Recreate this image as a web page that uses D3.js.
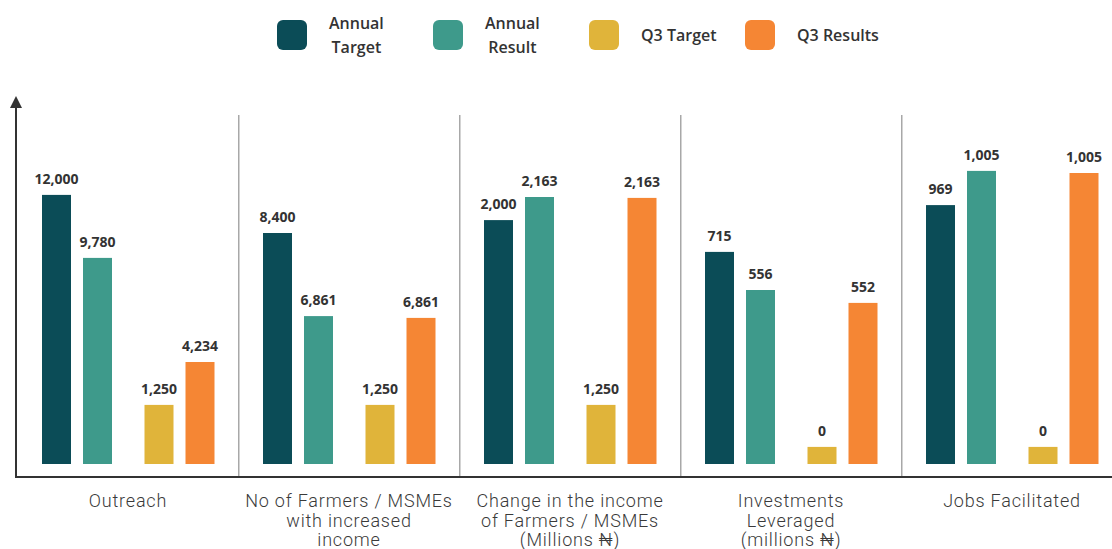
<!DOCTYPE html>
<html>

<head>
    <meta charset="utf-8">
    <style>
        body {
            margin: 0;
            background: #fff;
        }

        svg {
            display: block;
        }

        .value-label {
            font-family: "Open Sans", sans-serif;
            font-weight: 700;
            font-size: 14px;
            fill: #333;
        }

        .cat-label {
            font-family: Roboto, "DejaVu Sans", sans-serif;
            font-weight: 300;
            font-size: 18px;
            letter-spacing: 0.8px;
            fill: #3a3a3a;
        }

        .legend-label {
            font-family: "Open Sans", sans-serif;
            font-weight: 600;
            font-size: 16px;
            fill: #333;
        }
    </style>
    <title>Annual and Q3 results</title>
</head>

<body>
    <svg width="1112" height="549"></svg>

    <script src="https://d3js.org/d3.v7.min.js"></script>
    <script>
        // categories, one entry per group (lines of the label)
        let categories = [
            ["Outreach"],
            ["No of Farmers / MSMEs", "with increased", "income"],
            ["Change in the income", "of Farmers / MSMEs", "(Millions ₦)"],
            ["Investments", "Leveraged", "(millions ₦)"],
            ["Jobs Facilitated"]
        ]

        let seriesKeys = ["Annual Target", "Annual Result", "Q3 Target", "Q3 Results"]
        let legendLines = [["Annual", "Target"], ["Annual", "Result"], ["Q3 Target"], ["Q3 Results"]]
        let seriesColors = ["#0b4c57", "#3e9a8b", "#e0b43a", "#f58634"]

        // printed values
        let annualTarget = [12000, 8400, 2000, 715, 969]
        let annualResult = [9780, 6861, 2163, 556, 1005]
        let q3Target = [1250, 1250, 1250, 0, 0]
        let q3Results = [4234, 6861, 2163, 552, 1005]

        // bar heights as drawn in the picture (0-100 level, not to value scale)
        let annualTargetLevel = [89.7, 77.0, 81.3, 70.7, 86.3]
        let annualResultLevel = [68.7, 49.3, 89.0, 58.0, 97.7]
        let q3TargetLevel = [19.7, 19.7, 19.7, 5.7, 5.7]
        let q3ResultsLevel = [34.0, 48.7, 88.7, 53.7, 97.0]

        let values = [annualTarget, annualResult, q3Target, q3Results]
        let levels = [annualTargetLevel, annualResultLevel, q3TargetLevel, q3ResultsLevel]

        let baseY = 464
        let axisY = 477
        let axisX = 16
        let barW = 29

        let svg = d3.select("svg")

        let color = d3.scaleOrdinal()
            .domain(seriesKeys)
            .range(seriesColors)

        let x0 = d3.scaleBand()
            .domain(d3.range(categories.length))
            .range([17.5, 1122.5])

        // slot within group: a pair, a gap, a pair
        let slot = d3.scaleOrdinal()
            .domain(seriesKeys)
            .range([0, 1, 2.5, 3.5])

        let x1 = d3.scaleLinear()
            .domain([0, 3.5])
            .range([-71.5, 72])

        let y = d3.scaleLinear()
            .domain([0, 100])
            .range([baseY, baseY - 300])

        let fmt = d3.format(",")

        let rows = []
        categories.forEach((c, i) => {
            seriesKeys.forEach((k, j) => {
                rows.push({ group: i, key: k, value: values[j][i], level: levels[j][i] })
            })
        })

        let cx = d => x0(d.group) + x0.bandwidth() / 2 + x1(slot(d.key))

        // separators sit midway between the bar blocks of two groups
        let sepX = i => {
            let left = x0(i - 1) + x0.bandwidth() / 2 + x1(3.5) + barW / 2
            let right = x0(i) + x0.bandwidth() / 2 + x1(0) - barW / 2
            return (left + right) / 2
        }

        svg.append("g")
            .selectAll("line")
            .data(d3.range(1, categories.length))
            .join("line")
            .attr("x1", sepX)
            .attr("x2", sepX)
            .attr("y1", 115)
            .attr("y2", axisY)
            .attr("stroke", "#a8a8a8")
            .attr("stroke-width", 1.5)

        // bars
        svg.append("g")
            .selectAll("rect")
            .data(rows)
            .join("rect")
            .attr("x", d => cx(d) - barW / 2)
            .attr("y", d => y(d.level))
            .attr("width", barW)
            .attr("height", d => baseY - y(d.level))
            .attr("fill", d => color(d.key))

        svg.append("g")
            .selectAll("text")
            .data(rows)
            .join("text")
            .attr("class", "value-label")
            .attr("x", d => cx(d))
            .attr("y", d => y(d.level) - 11)
            .attr("text-anchor", "middle")
            .text(d => fmt(d.value))

        // axes
        svg.append("line")
            .attr("x1", axisX).attr("x2", 1112)
            .attr("y1", axisY).attr("y2", axisY)
            .attr("stroke", "#333")
            .attr("stroke-width", 2)

        svg.append("line")
            .attr("x1", axisX).attr("x2", axisX)
            .attr("y1", axisY + 1).attr("y2", 104)
            .attr("stroke", "#333")
            .attr("stroke-width", 2)

        svg.append("path")
            .attr("d", `M${axisX - 6},${108} L${axisX},${96} L${axisX + 6},${108} Z`)
            .attr("fill", "#333")

        // category labels
        let cat = svg.append("g")
            .selectAll("text")
            .data(categories)
            .join("text")
            .attr("class", "cat-label")
            .attr("text-anchor", "middle")
            .attr("x", (d, i) => x0(i) + x0.bandwidth() / 2)
            .attr("y", 507)

        cat.selectAll("tspan")
            .data(d => d)
            .join("tspan")
            .attr("x", function () { return d3.select(this.parentNode).attr("x") })
            .attr("dy", (d, i) => i == 0 ? 0 : 19.5)
            .text(d => d)

        // legend
        let lx = d3.scalePoint()
            .domain(seriesKeys)
            .range([277, 745])

        let leg = svg.append("g")
            .selectAll("g")
            .data(seriesKeys)
            .join("g")
            .attr("transform", d => `translate(${lx(d)},20)`)

        leg.append("rect")
            .attr("width", 30)
            .attr("height", 30)
            .attr("rx", 6)
            .attr("fill", d => color(d))

        leg.each(function (d, i) {
            let lines = legendLines[i]
            let t = d3.select(this).append("text")
                .attr("class", "legend-label")
                .attr("y", lines.length == 1 ? 21 : 9)
            t.selectAll("tspan")
                .data(lines)
                .join("tspan")
                .attr("dy", (l, k) => k == 0 ? 0 : 24)
                .text(l => l)
            // center lines in the label block
            let widths = []
            t.selectAll("tspan").each(function () { widths.push(this.getComputedTextLength()) })
            let wMax = d3.max(widths)
            t.selectAll("tspan")
                .attr("x", (l, k) => 52 + (wMax - widths[k]) / 2)
        })
    </script>
</body>

</html>
